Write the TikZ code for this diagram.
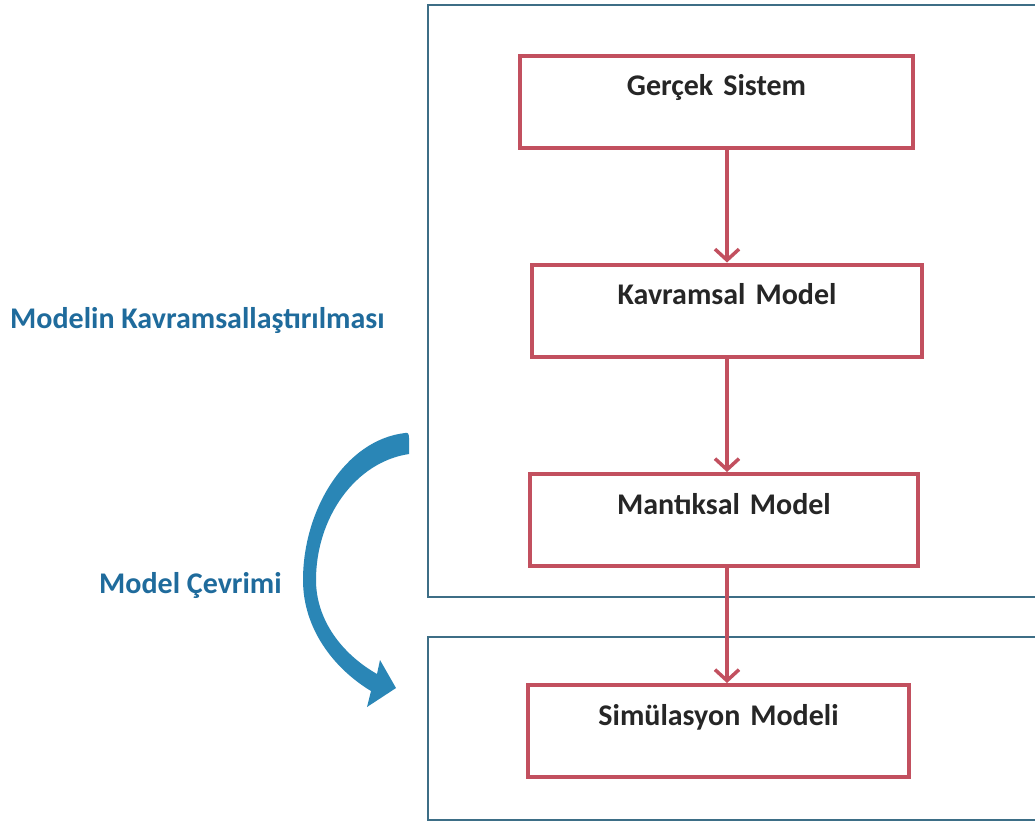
\documentclass[tikz,border=0pt]{standalone}
\usepackage{fontspec}
\setmainfont{Carlito}
\usetikzlibrary{arrows.meta}
\definecolor{framecol}{HTML}{3D6E86}
\definecolor{boxred}{HTML}{C2505F}
\definecolor{cyclblue}{HTML}{2A86B6}
\definecolor{labblue}{HTML}{1F6B9C}
\definecolor{txtdark}{HTML}{262626}
\tikzset{
  frame/.style={draw=framecol, line width=1.7pt},
  stagebox/.style={draw=boxred, line width=4pt, fill=white, inner sep=0pt,
    text=txtdark, font=\bfseries\fontsize{30}{32}\selectfont, align=center,
    text height=40pt, text depth=52pt},
  flow/.style={draw=boxred, line width=3.5pt,
    -{Straight Barb[length=11pt, width=24pt, line width=3.5pt]}},
  sidelabel/.style={text=labblue, font=\bfseries\fontsize{30}{32}\selectfont, inner sep=0pt}
}
\begin{document}
\begin{tikzpicture}[x=1pt, y=-1pt]
  \useasboundingbox (0,0) rectangle (1035,823);
  \clip (0,0) rectangle (1035,823);
  \fill[white] (0,0) rectangle (1035,823);

  % two framing panels, open to the right
  \draw[frame] (1045,5) -- (428,5) -- (428,597) -- (1045,597);
  \draw[frame] (1045,637) -- (428,637) -- (428,820) -- (1045,820);

  % stages of the modelling chain
  \node[stagebox, text width=393pt] (g) at (716.5,101.5) {Gerçek Sistem};
  \node[stagebox, text width=390pt] (k) at (727,310.5) {Kavramsal Model};
  \node[stagebox, text width=388pt] (m) at (724,520) {Mantıksal Model};
  \node[stagebox, text width=381pt] (s) at (718.5,731) {Simülasyon Modeli};

  \draw[flow] (g.south -| k.north) -- (k.north);
  \draw[flow] (k.south) -- (k.south |- m.north);
  \draw[flow] (k.south |- m.south) -- (k.south |- s.north);

  % side labels
  \node[sidelabel, anchor=west] (lab1) at (10,320) {Modelin Kavramsallaştırılması};
  \node[sidelabel, anchor=west] (lab2) at (99,585) {Model Çevrimi};

  % curved cycle arrow
  \fill[cyclblue] (405,433) .. controls (345,440) and (303,510) .. (303,580)
    .. controls (303,628) and (333,668) .. (371,691)
    -- (367,707) -- (396,688) -- (380,660)
    -- (377,674) .. controls (342,654) and (316,620) .. (316,580)
    .. controls (316,518) and (355,462) .. (409,454)
    -- (409,438) .. controls (409,434) and (408,432) .. cycle;
\end{tikzpicture}
\end{document}
